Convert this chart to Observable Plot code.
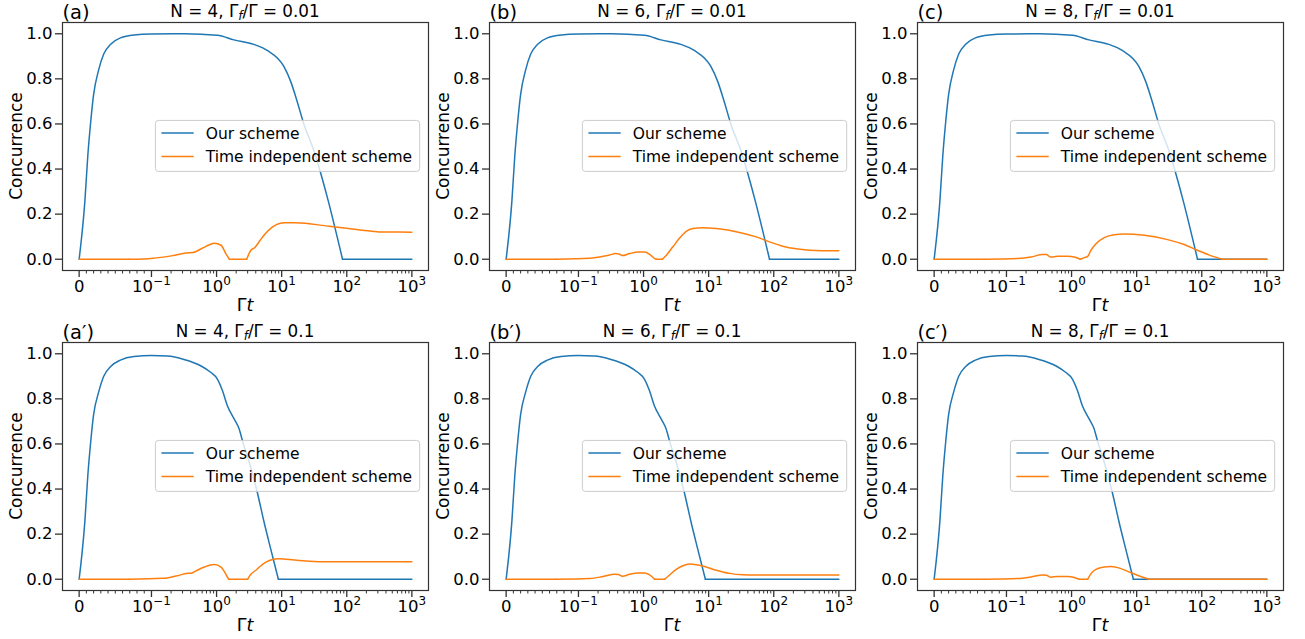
<!DOCTYPE html>
<html><head><meta charset="utf-8">
<script src="https://cdn.jsdelivr.net/npm/d3@7"></script>
<script src="https://cdn.jsdelivr.net/npm/@observablehq/plot@0.6"></script>
<style>
body{margin:0;background:#fff;}
#fig{position:relative;width:1305px;height:639px;overflow:hidden;background:#fff;}
#fig svg{position:absolute;max-width:none;}
</style></head><body><div id="fig"></div>
<script>
// ---------- tick / label data ----------
const majorTicks = [0, 0.1, 1, 10, 100, 1000];
const majorTickLabels = ["0", "10^−1", "10^0", "10^1", "10^2", "10^3"];
const minorTicks = [0.01,0.02,0.03,0.04,0.05,0.06,0.07,0.08,0.09,
  0.2,0.3,0.4,0.5,0.6,0.7,0.8,0.9, 2,3,4,5,6,7,8,9, 20,30,40,50,60,70,80,90, 200,300,400,500,600,700,800,900];
const yTicks = [0, 0.2, 0.4, 0.6, 0.8, 1.0];
const panelLabels = ["(a)", "(b)", "(c)", "(a′)", "(b′)", "(c′)"];
const panelN = [4, 6, 8, 4, 6, 8];
const panelRatio = ["0.01", "0.01", "0.01", "0.1", "0.1", "0.1"];
const seriesNames = ["Our scheme", "Time independent scheme"];
const seriesColors = ["#1f77b4", "#ff7f0e"];

// ---------- series: Our scheme ----------
const ourT_001 = [0, 0.008, 0.012, 0.016, 0.02, 0.027, 0.034, 0.044, 0.057, 0.076, 0.1, 0.32, 1.03, 1.85, 3.74, 6.0, 10.8, 13.7, 17.3, 21.9, 31.1, 39.4, 51.7, 86, 1000];
const ourC_001 = [0, 0.26, 0.46, 0.61, 0.73, 0.84, 0.91, 0.955, 0.982, 0.995, 0.999, 1.0, 0.993, 0.973, 0.953, 0.926, 0.855, 0.79, 0.70, 0.60, 0.483, 0.386, 0.261, 0, 0];
const ourT_01 = [0, 0.008, 0.012, 0.016, 0.02, 0.027, 0.034, 0.044, 0.057, 0.076, 0.1, 0.176, 0.316, 0.57, 0.81, 1.03, 1.23, 1.46, 1.85, 2.21, 2.54, 3.33, 4.22, 5.33, 6.75, 8.9, 1000];
const ourC_01 = [0, 0.26, 0.46, 0.61, 0.73, 0.83, 0.90, 0.945, 0.972, 0.988, 0.992, 0.99, 0.975, 0.947, 0.918, 0.888, 0.837, 0.771, 0.712, 0.668, 0.607, 0.499, 0.386, 0.257, 0.137, 0, 0];

// ---------- series: Time independent scheme ----------
const tiT_a = [0, 0.069, 0.09, 0.118, 0.212, 0.34, 0.43, 0.612, 0.776, 0.925, 1.17, 1.39, 1.57, 2.9, 3.37, 3.8, 5.09, 7.25, 11, 16.5, 53.7, 174, 314, 1000];
const tiC_a = [0, 0, 0.001, 0.006, 0.016, 0.028, 0.0295, 0.05, 0.064, 0.071, 0.062, 0.025, 0, 0, 0.04, 0.05, 0.099, 0.143, 0.162, 0.162, 0.146, 0.129, 0.121, 0.12];
const tiT_b = [0, 0.069, 0.149, 0.212, 0.302, 0.373, 0.43, 0.473, 0.612, 0.82, 1.04, 1.24, 1.48, 1.57, 1.94, 2.24, 2.82, 3.58, 4.53, 5.73, 8.15, 13.1, 29.8, 53.7, 85.9, 137, 221, 353, 565, 1000];
const tiC_b = [0, 0, 0.0044, 0.010, 0.019, 0.025, 0.022, 0.016, 0.025, 0.032, 0.032, 0.022, 0.003, 0, 0, 0.018, 0.055, 0.094, 0.124, 0.136, 0.140, 0.136, 0.119, 0.099, 0.077, 0.058, 0.046, 0.040, 0.038, 0.038];
const tiT_c = [0, 0.069, 0.149, 0.239, 0.36, 0.41, 0.473, 0.612, 0.871, 1.1, 1.36, 1.57, 1.77, 1.99, 2.37, 3.18, 4.53, 6.46, 13.1, 29.8, 53.7, 85.9, 137, 208, 1000];
const tiC_c = [0, 0, 0.003, 0.010, 0.021, 0.021, 0.010, 0.013, 0.013, 0.010, 0, 0.007, 0.013, 0.040, 0.069, 0.096, 0.109, 0.112, 0.106, 0.087, 0.065, 0.040, 0.016, 0, 0];
const tiT_a2 = [0, 0.069, 0.149, 0.239, 0.36, 0.42, 0.483, 0.65, 0.925, 1.17, 1.39, 1.53, 3.0, 3.37, 4.02, 5.09, 6.46, 8.65, 11.6, 20.9, 42.4, 1000];
const tiC_a2 = [0, 0, 0.004, 0.0145, 0.026, 0.028, 0.037, 0.054, 0.065, 0.054, 0.022, 0, 0, 0.022, 0.040, 0.066, 0.083, 0.091, 0.089, 0.082, 0.0775, 0.0775];
const tiT_b2 = [0, 0.069, 0.149, 0.239, 0.36, 0.41, 0.473, 0.612, 0.82, 1.04, 1.24, 1.48, 2.11, 2.51, 3.18, 4.02, 5.09, 6.46, 9.18, 13.1, 20.9, 33.5, 53.7, 1000];
const tiC_b2 = [0, 0, 0.003, 0.012, 0.022, 0.021, 0.013, 0.022, 0.028, 0.028, 0.019, 0, 0, 0.019, 0.044, 0.060, 0.067, 0.064, 0.054, 0.040, 0.026, 0.020, 0.019, 0.019];
const tiT_c2 = [0, 0.069, 0.149, 0.239, 0.36, 0.41, 0.473, 0.612, 0.871, 1.1, 1.32, 1.77, 1.99, 2.37, 3.18, 4.02, 5.73, 8.15, 11.6, 15.6, 1000];
const tiC_c2 = [0, 0, 0.003, 0.010, 0.019, 0.018, 0.009, 0.012, 0.012, 0.008, 0, 0, 0.025, 0.044, 0.054, 0.056, 0.047, 0.029, 0.012, 0, 0];

const panelSeries = [
  [[ourT_001, ourC_001], [tiT_a, tiC_a]],
  [[ourT_001, ourC_001], [tiT_b, tiC_b]],
  [[ourT_001, ourC_001], [tiT_c, tiC_c]],
  [[ourT_01, ourC_01], [tiT_a2, tiC_a2]],
  [[ourT_01, ourC_01], [tiT_b2, tiC_b2]],
  [[ourT_01, ourC_01], [tiT_c2, tiC_c2]]
];

// ---------- matplotlib-style symlog (linthresh 0.1, linscale 1) ----------
const LIN = 0.1, LSA = 1 / (1 - 1 / 10);
const sx = t => t <= LIN ? t / LIN * LSA : LSA + Math.log10(t / LIN);
const xMax = sx(1000);

// split a series into pieces at its zero corners so that the smooth curve keeps them sharp
function pieces(T, C, s) {
  const out = []; let seg = 0;
  T.forEach((tv, k) => {
    out.push({t: tv, c: C[k], s, seg});
    const corner = C[k] === 0 && k > 0 && k < T.length - 1 && (C[k - 1] > 0 || C[k + 1] > 0);
    if (corner) { seg++; out.push({t: tv, c: C[k], s, seg}); }
  });
  return out;
}

const ML = 62, MR = 4, MT = 24, MB = 46, FW = 366, FH = 248;
const frames = [[62, 22], [489, 22], [917, 22], [62, 342], [489, 342], [917, 342]];
const fig = d3.select("#fig");
const majorPos = majorTicks.map(sx);

frames.forEach(([l, t], i) => {
  const rows = panelSeries[i].map(([T, C], s) => pieces(T, C, s));
  const svg = Plot.plot({
    width: FW + ML + MR, height: FH + MT + MB,
    marginLeft: ML, marginRight: MR, marginTop: MT, marginBottom: MB,
    x: {type: "linear", domain: [-0.05 * xMax, 1.05 * xMax]},
    y: {domain: [-0.05, 1.05]},
    style: {fontFamily: "DejaVu Sans", fontSize: "16.5px", color: "black", background: "transparent", overflow: "visible"},
    marks: [
      Plot.axisY(yTicks, {tickSize: 7, tickPadding: 3, strokeWidth: 1.3, stroke: "#333", tickFormat: d => d.toFixed(1), label: null}),
      Plot.axisX(minorTicks.map(sx), {tickSize: 3.5, strokeWidth: 1, stroke: "#333", tickFormat: () => "", label: null}),
      Plot.axisX(majorPos, {tickSize: 7, tickPadding: 3, strokeWidth: 1.3, stroke: "#333", tickFormat: d => majorTickLabels[majorPos.indexOf(d)], label: null}),
      ...rows.map((r, s) => Plot.line(r, {x: d => sx(d.t), y: "c", z: "seg", stroke: seriesColors[s], strokeWidth: 1.5, curve: "monotone-x"})),
      Plot.frame({stroke: "#333", strokeWidth: 1.2})
    ]
  });
  d3.select(svg).selectAll("text").each(function() {
    const s = this.textContent;
    if (s.includes("^")) {
      const [b, e] = s.split("^");
      const el = d3.select(this); el.text("");
      el.append("tspan").text(b);
      el.append("tspan").attr("dy", -6.8).attr("font-size", 12).text(e);
    }
  });
  d3.select(svg).style("left", (l - ML) + "px").style("top", (t - MT) + "px");
  fig.node().appendChild(svg);
});

// ---------- overlay: titles, labels, legends ----------
const ov = fig.append("svg").attr("width", 1305).attr("height", 639)
  .style("left", "0px").style("top", "0px").attr("font-family", "DejaVu Sans");
frames.forEach(([l, t], i) => {
  ov.append("text").attr("x", l + 0.5).attr("y", t - 3.5).attr("font-size", 19.5).text(panelLabels[i]);
  const tt = ov.append("text").attr("x", l + FW / 2).attr("y", t - 5.5).attr("text-anchor", "middle").attr("font-size", 16.8);
  tt.append("tspan").text(`N = ${panelN[i]}, Γ`);
  tt.append("tspan").attr("font-style", "italic").attr("font-size", 12).attr("dy", 3.5).text("f");
  tt.append("tspan").attr("dy", -3.5).text(`/Γ = ${panelRatio[i]}`);
  ov.append("text").attr("transform", `translate(${l - 40.5},${t + FH / 2}) rotate(-90)`)
    .attr("text-anchor", "middle").attr("font-size", 17).text("Concurrence");
  const xl = ov.append("text").attr("x", l + FW / 2).attr("y", t + FH + 40.5).attr("text-anchor", "middle").attr("font-size", 17.5);
  xl.append("tspan").text("Γ");
  xl.append("tspan").attr("font-style", "italic").text("t");
  // legend
  const g = ov.append("g").attr("transform", `translate(${l},${t})`);
  g.append("rect").attr("x", 93.4).attr("y", 98.4).attr("width", 264.3).attr("height", 51).attr("rx", 3)
    .attr("fill", "white").attr("fill-opacity", 0.8).attr("stroke", "#cccccc").attr("stroke-width", 1);
  seriesNames.forEach((name, s) => {
    const cy = 111 + s * 23.4;
    g.append("line").attr("x1", 99.4).attr("x2", 131.7).attr("y1", cy).attr("y2", cy)
      .attr("stroke", seriesColors[s]).attr("stroke-width", 1.5);
    g.append("text").attr("x", 143.7).attr("y", cy + 5.8).attr("font-size", 15.5).text(name);
  });
});
</script></body></html>
